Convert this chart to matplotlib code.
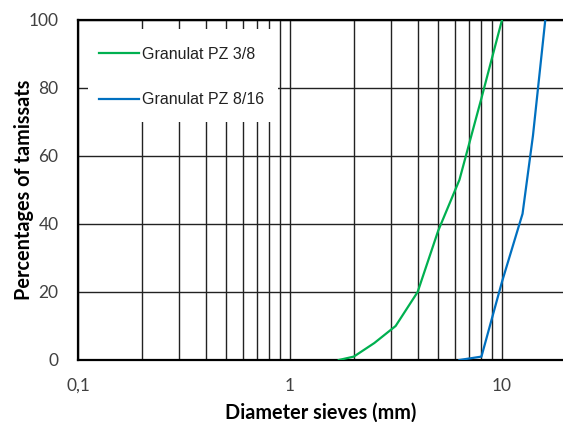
import matplotlib
matplotlib.use("Agg")
import matplotlib.pyplot as plt
from matplotlib.patches import Rectangle
from matplotlib.ticker import FixedLocator, FixedFormatter, NullFormatter

# sieve openings (mm) and cumulative passing (%)
sieves_38 = [1.7, 2, 2.5, 3.15, 4, 5, 6.3, 8, 10]
passing_38 = [0, 1, 5, 10, 20, 38, 53, 77, 100]
sieves_816 = [6.3, 8, 10, 12.5, 14, 16]
passing_816 = [0, 1, 23, 43, 66, 100]

x_ticks = [0.1, 1, 10]
x_labels = ["0,1", "1", "10"]
y_ticks = [0, 20, 40, 60, 80, 100]

plt.rcParams["font.family"] = ["Lato", "DejaVu Sans"]

W, H = 563, 422
fig = plt.figure(figsize=(W / 100, H / 100), dpi=100)
ax = fig.add_axes([78 / W, 1 - 360 / H, 1 - 78 / W, 340 / H])

ax.plot(sieves_38, passing_38, color="#00B050", lw=1.6, label="Granulat PZ 3/8", zorder=3)
ax.plot(sieves_816, passing_816, color="#0070C0", lw=1.6, label="Granulat PZ 8/16", zorder=3)

ax.set_xscale("log")
ax.set_xlim(0.1, 19.4)
ax.set_ylim(0, 100)

ax.xaxis.set_major_locator(FixedLocator(x_ticks))
ax.xaxis.set_major_formatter(FixedFormatter(x_labels))
minor = [m * d for d in (0.1, 1) for m in range(2, 10)]
ax.xaxis.set_minor_locator(FixedLocator(minor))
ax.xaxis.set_minor_formatter(NullFormatter())
ax.set_yticks(y_ticks)

ax.grid(True, which="both", axis="x", color="#222222", lw=1.0)
ax.grid(True, which="major", axis="y", color="#222222", lw=1.0)
ax.tick_params(which="both", length=0, labelsize=12.5, colors="#404040")
ax.tick_params(axis="x", pad=13)
ax.tick_params(axis="y", pad=14)

for s in ["left", "bottom", "top"]:
    ax.spines[s].set_linewidth(1.6)
    ax.spines[s].set_color("black")
ax.spines["right"].set_visible(False)

ax.set_xlabel("Diameter sieves (mm)", fontsize=14.3, fontweight="bold", labelpad=6)
ax.set_ylabel("Percentages of tamissats", fontsize=14.3, fontweight="bold", labelpad=-4)

# white patch behind the legend hides the grid there
ax.add_patch(Rectangle((10 / 485, 1 - 102 / 340), 190 / 485, 93 / 340,
                       transform=ax.transAxes, facecolor="white",
                       edgecolor="none", zorder=2))

leg = ax.legend(loc="upper left", bbox_to_anchor=(21 / 485, 1 - 27 / 340),
                prop={"family": "Liberation Sans", "size": 11.5},
                frameon=False, handlelength=2.5, handletextpad=0.2,
                labelspacing=1.9, borderpad=0, borderaxespad=0)
for t in leg.get_texts():
    t.set_color("#222222")

fig.savefig("out.png", dpi=100)
